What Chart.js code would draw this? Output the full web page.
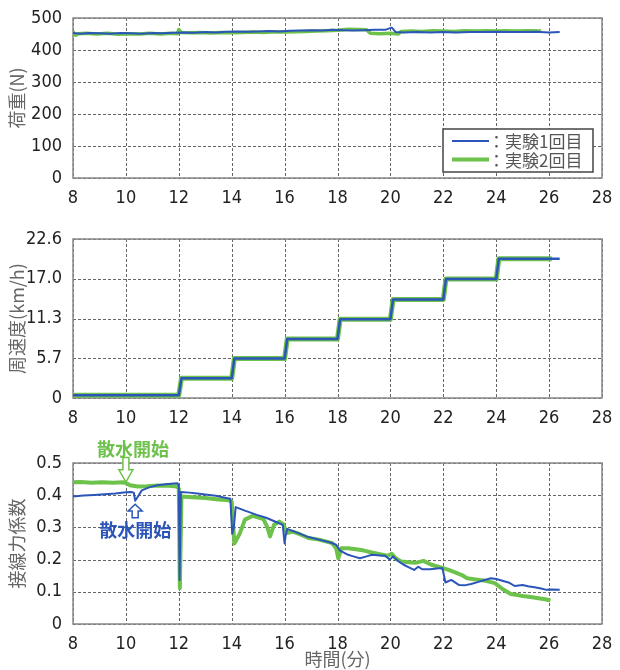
<!DOCTYPE html>
<html>
<head>
<meta charset="utf-8">
<script src="https://cdn.jsdelivr.net/npm/chart.js@4.4.1/dist/chart.umd.min.js"></script>
<style>
  body { margin: 0; background: #fff; }
  .panel { position: absolute; left: 0; }
</style>
</head>
<body>
<div class="panel" style="top:0px"><canvas id="loadChart" width="620" height="210"></canvas></div>
<div class="panel" style="top:210px"><canvas id="speedChart" width="620" height="220"></canvas></div>
<div class="panel" style="top:430px"><canvas id="fricChart" width="620" height="240"></canvas></div>
<script>
// shared x axis (minutes)
const timeTicks = [8, 10, 12, 14, 16, 18, 20, 22, 24, 26, 28];
const seriesNames = ['：実験1回目', '：実験2回目'];
const BLUE = '#2b55b8';
const GREEN = '#6cc24a';

// load (N)
const loadTicks = [0, 100, 200, 300, 400, 500];
const loadTime1 = [8, 8.3, 8.6, 9, 9.4, 9.8, 10.2, 10.6, 11, 11.4, 11.8, 12.2, 12.6, 13, 13.4, 13.8, 14.2, 14.6, 15, 15.4, 15.8, 16.2, 16.6, 17, 17.4, 17.8, 18.2, 18.6, 19, 19.4, 19.8, 20.05, 20.12, 20.2, 20.5, 21, 21.5, 22, 22.5, 23, 23.5, 24, 24.5, 25, 25.5, 26, 26.4];
const load1 = [453, 451, 453, 452, 451, 453, 452, 451, 453, 452, 454, 455, 454, 456, 455, 457, 458, 457, 458, 459, 458, 460, 461, 462, 461, 463, 462, 461, 462, 463, 463, 470, 464, 456, 455, 456, 455, 456, 455, 456, 456, 457, 456, 456, 457, 455, 456];
const loadTime2 = [8, 8.1, 8.2, 8.5, 8.9, 9.3, 9.7, 10.1, 10.5, 10.9, 11.3, 11.7, 11.95, 12.0, 12.08, 12.4, 12.8, 13.2, 13.6, 14, 14.4, 14.8, 15.2, 15.6, 16, 16.4, 16.8, 17.2, 17.6, 18, 18.4, 18.8, 19.1, 19.25, 19.6, 20, 20.3, 20.4, 20.8, 21.2, 21.6, 22, 22.4, 22.8, 23.2, 23.6, 24, 24.4, 24.8, 25.2, 25.7];
const load2 = [458, 446, 451, 452, 450, 452, 449, 451, 450, 452, 450, 452, 451, 464, 455, 454, 455, 453, 455, 454, 455, 456, 455, 457, 456, 457, 458, 459, 460, 462, 465, 464, 463, 452, 451, 452, 450, 458, 459, 458, 460, 459, 458, 460, 459, 460, 459, 460, 459, 460, 459];

// peripheral speed (km/h)
const speedTicks = [0, 5.65, 11.3, 16.95, 22.6];
const speedTickLabels = ['0', '5.7', '11.3', '17.0', '22.6'];
const speedTime1 = [8, 12, 12.1, 14, 14.1, 16, 16.1, 18, 18.1, 20, 20.1, 22, 22.1, 24, 24.1, 26.4];
const speed1 = [0.4, 0.4, 2.8, 2.8, 5.6, 5.6, 8.4, 8.4, 11.2, 11.2, 14.0, 14.0, 16.9, 16.9, 19.8, 19.8];
const speedTime2 = [8, 12, 12.1, 14, 14.1, 16, 16.1, 18, 18.1, 20, 20.1, 22, 22.1, 24, 24.1, 26.1];
const speed2 = [0.4, 0.4, 2.8, 2.8, 5.6, 5.6, 8.4, 8.4, 11.2, 11.2, 14.0, 14.0, 16.9, 16.9, 19.8, 19.8];

// tangential force coefficient
const fricTicks = [0, 0.1, 0.2, 0.3, 0.4, 0.5];
const fricTime1 = [8, 8.4, 8.8, 9.2, 9.6, 10.0, 10.2, 10.3, 10.35, 10.45, 10.6, 10.9, 11.2, 11.5, 11.8, 11.95, 12.0, 12.03, 12.08, 12.4, 12.7, 13.0, 13.4, 13.7, 13.95, 14.02, 14.08, 14.15, 14.5, 14.95, 15.3, 15.7, 15.93, 16.0, 16.04, 16.1, 16.5, 16.9, 17.3, 17.7, 17.95, 18.1, 18.4, 18.6, 18.85, 19.1, 19.3, 19.6, 19.8, 19.98, 20.1, 20.3, 20.5, 20.7, 20.9, 21.05, 21.2, 21.5, 21.85, 21.97, 22.08, 22.3, 22.6, 22.8, 23.05, 23.3, 23.5, 23.8, 24.0, 24.2, 24.5, 24.7, 25.0, 25.2, 25.45, 25.7, 25.9, 26.1, 26.4];
const fric1 = [0.396, 0.399, 0.401, 0.403, 0.405, 0.409, 0.41, 0.408, 0.383, 0.395, 0.415, 0.425, 0.431, 0.434, 0.436, 0.437, 0.43, 0.137, 0.41, 0.408, 0.405, 0.402, 0.398, 0.393, 0.389, 0.28, 0.3, 0.363, 0.352, 0.339, 0.33, 0.316, 0.308, 0.25, 0.275, 0.295, 0.283, 0.27, 0.262, 0.254, 0.246, 0.228, 0.215, 0.21, 0.204, 0.21, 0.215, 0.213, 0.212, 0.2, 0.21, 0.195, 0.184, 0.176, 0.168, 0.178, 0.17, 0.17, 0.173, 0.173, 0.129, 0.137, 0.121, 0.12, 0.124, 0.13, 0.135, 0.142, 0.14, 0.135, 0.128, 0.118, 0.121, 0.117, 0.114, 0.11, 0.106, 0.107, 0.106];
const fricTime2 = [8, 8.3, 8.7, 9.1, 9.5, 9.9, 10.05, 10.15, 10.45, 10.8, 11.2, 11.6, 11.93, 12.0, 12.04, 12.1, 12.5, 13.0, 13.5, 13.9, 14.0, 14.1, 14.3, 14.5, 14.8, 15.2, 15.35, 15.45, 15.6, 15.8, 15.95, 16.08, 16.3, 16.6, 16.9, 17.3, 17.8, 17.95, 18.03, 18.15, 18.4, 18.7, 19.0, 19.3, 19.6, 19.9, 20.05, 20.2, 20.4, 20.7, 20.95, 21.25, 21.55, 21.9, 22.2, 22.45, 22.7, 22.9, 23.1, 23.35, 23.6, 23.95, 24.25, 24.55, 24.8, 25.0, 25.3, 25.6, 25.85, 26.05];
const fric2 = [0.44, 0.441, 0.439, 0.44, 0.439, 0.44, 0.436, 0.431, 0.427, 0.428, 0.43, 0.429, 0.427, 0.42, 0.111, 0.396, 0.394, 0.391, 0.387, 0.384, 0.38, 0.25, 0.28, 0.324, 0.336, 0.326, 0.3, 0.272, 0.308, 0.318, 0.31, 0.282, 0.287, 0.278, 0.267, 0.262, 0.251, 0.235, 0.204, 0.235, 0.235, 0.232, 0.228, 0.222, 0.217, 0.212, 0.218, 0.204, 0.194, 0.192, 0.19, 0.196, 0.184, 0.176, 0.168, 0.16, 0.152, 0.142, 0.14, 0.137, 0.134, 0.127, 0.108, 0.093, 0.09, 0.087, 0.084, 0.08, 0.077, 0.073];

// 散水開始 marks (text position, arrow from/to in data units)
const sprayNotes = [
  { color: GREEN, text: '散水開始', tx: 10.27, ty: 0.542, ax: 10.0, from: 0.517, to: 0.441 },
  { color: BLUE, text: '散水開始', tx: 10.35, ty: 0.292, ax: 10.35, from: 0.33, to: 0.372 }
];

const tickFont = { family: "'Liberation Sans Narrow', 'DejaVu Sans Condensed', 'Liberation Sans', sans-serif", size: 18 };
const cjkFont = "'Noto Sans CJK JP', sans-serif";

function pts(xs, ys) {
  return xs.map((x, i) => ({ x: x, y: ys[i] }));
}

function series(xs1, ys1, xs2, ys2, w1, w2) {
  return [
    { label: seriesNames[0], data: pts(xs1, ys1), borderColor: BLUE, borderWidth: w1, order: 0 },
    { label: seriesNames[1], data: pts(xs2, ys2), borderColor: GREEN, borderWidth: w2, order: 1 }
  ];
}

function makeOptions(cfg) {
  return {
    responsive: false,
    animation: false,
    showLine: true,
    elements: { point: { radius: 0 }, line: { tension: 0, borderJoinStyle: 'round' } },
    layout: { padding: { top: cfg.padTop, right: 18, left: 0, bottom: 0 } },
    plugins: { legend: { display: false }, tooltip: { enabled: false } },
    scales: {
      x: {
        type: 'linear', min: 8, max: 28,
        afterBuildTicks: s => { s.ticks = timeTicks.map(v => ({ value: v })); },
        afterFit: s => { s.height = cfg.xHeight; },
        ticks: { font: tickFont, color: '#222', padding: 2, maxRotation: 0 },
        grid: { display: false },
        border: { display: false },
        title: cfg.xTitle ? { display: true, text: cfg.xTitle, color: '#666', font: { family: cjkFont, size: 18 }, padding: 0 } : { display: false }
      },
      y: {
        min: cfg.yMin, max: cfg.yMax,
        afterBuildTicks: s => { s.ticks = cfg.yTicks.map(v => ({ value: v })); },
        afterFit: s => { s.width = 73; },
        ticks: {
          font: tickFont, color: '#222', padding: 3,
          callback: (v, i) => cfg.yLabels ? cfg.yLabels[i] : String(v)
        },
        grid: { display: false },
        border: { display: false },
        title: { display: true, text: cfg.yTitle, color: '#666', font: { family: cjkFont, size: 18 }, padding: { top: 6, bottom: 0 } }
      }
    }
  };
}

// dashed grid + solid frame, drawn under the lines
const dashedGridPlugin = {
  id: 'dashedGridPlugin',
  beforeDatasetsDraw(chart) {
    const ctx = chart.ctx, a = chart.chartArea;
    ctx.save();
    ctx.strokeStyle = '#666';
    ctx.lineWidth = 1;
    ctx.setLineDash([3, 2]);
    chart.scales.x.ticks.forEach(t => {
      const x = Math.round(chart.scales.x.getPixelForValue(t.value)) + 0.5;
      ctx.beginPath(); ctx.moveTo(x, a.top); ctx.lineTo(x, a.bottom); ctx.stroke();
    });
    chart.scales.y.ticks.forEach(t => {
      const y = Math.round(chart.scales.y.getPixelForValue(t.value)) + 0.5;
      ctx.beginPath(); ctx.moveTo(a.left, y); ctx.lineTo(a.right, y); ctx.stroke();
    });
    ctx.setLineDash([]);
    ctx.strokeStyle = '#888';
    ctx.lineWidth = 1.5;
    ctx.strokeRect(a.left, a.top, a.right - a.left, a.bottom - a.top);
    ctx.restore();
  }
};

const legendBox = {
  id: 'legendBox',
  afterDraw(chart) {
    const ctx = chart.ctx;
    ctx.save();
    ctx.fillStyle = '#fff';
    ctx.fillRect(443, 129, 150, 43);
    ctx.strokeStyle = '#444';
    ctx.lineWidth = 1.5;
    ctx.strokeRect(443, 129, 150, 43);
    chart.data.datasets.forEach((ds, i) => {
      const y = 141 + i * 18.5;
      ctx.strokeStyle = ds.borderColor;
      ctx.lineWidth = i === 0 ? 2 : 4;
      ctx.beginPath();
      ctx.moveTo(452, y);
      ctx.lineTo(489, y);
      ctx.stroke();
      ctx.fillStyle = '#555';
      ctx.font = '17px ' + cjkFont;
      ctx.textBaseline = 'middle';
      ctx.fillText(ds.label, 488, y + 1);
    });
    ctx.restore();
  }
};

function hollowArrow(ctx, x, yFrom, yTo, color) {
  // block arrow pointing from yFrom towards yTo
  const dir = yTo > yFrom ? 1 : -1;
  const head = Math.abs(yTo - yFrom) * 0.5;
  const shaft = 3;
  const hw = 7;
  const yNeck = yTo - dir * head;
  ctx.beginPath();
  ctx.moveTo(x - shaft, yFrom);
  ctx.lineTo(x - shaft, yNeck);
  ctx.lineTo(x - hw, yNeck);
  ctx.lineTo(x, yTo);
  ctx.lineTo(x + hw, yNeck);
  ctx.lineTo(x + shaft, yNeck);
  ctx.lineTo(x + shaft, yFrom);
  ctx.closePath();
  ctx.fillStyle = '#fff';
  ctx.fill();
  ctx.strokeStyle = color;
  ctx.lineWidth = 1.5;
  ctx.stroke();
}

const sprayMarks = {
  id: 'sprayMarks',
  afterDraw(chart) {
    const ctx = chart.ctx;
    const xs = chart.scales.x, ys = chart.scales.y;
    ctx.save();
    sprayNotes.forEach(n => {
      hollowArrow(ctx, xs.getPixelForValue(n.ax), ys.getPixelForValue(n.from), ys.getPixelForValue(n.to), n.color);
      ctx.fillStyle = n.color;
      ctx.font = 'bold 18px ' + cjkFont;
      ctx.textAlign = 'center';
      ctx.textBaseline = 'middle';
      ctx.fillText(n.text, xs.getPixelForValue(n.tx), ys.getPixelForValue(n.ty));
    });
    ctx.restore();
  }
};

new Chart(document.getElementById('loadChart'), {
  type: 'scatter',
  data: { datasets: series(loadTime1, load1, loadTime2, load2, 2, 3.5) },
  options: makeOptions({ padTop: 18, xHeight: 32, yMin: 0, yMax: 500, yTicks: loadTicks, yTitle: '荷重(N)' }),
  plugins: [dashedGridPlugin, legendBox]
});

new Chart(document.getElementById('speedChart'), {
  type: 'scatter',
  data: { datasets: series(speedTime1, speed1, speedTime2, speed2, 2.5, 5) },
  options: makeOptions({ padTop: 29, xHeight: 32, yMin: 0, yMax: 22.6, yTicks: speedTicks, yLabels: speedTickLabels, yTitle: '周速度(km/h)' }),
  plugins: [dashedGridPlugin]
});

new Chart(document.getElementById('fricChart'), {
  type: 'scatter',
  data: { datasets: series(fricTime1, fric1, fricTime2, fric2, 2, 4) },
  options: makeOptions({ padTop: 33, xHeight: 46, yMin: 0, yMax: 0.5, yTicks: fricTicks, yTitle: '接線力係数', xTitle: '時間(分)' }),
  plugins: [dashedGridPlugin, sprayMarks]
});
</script>
</body>
</html>
